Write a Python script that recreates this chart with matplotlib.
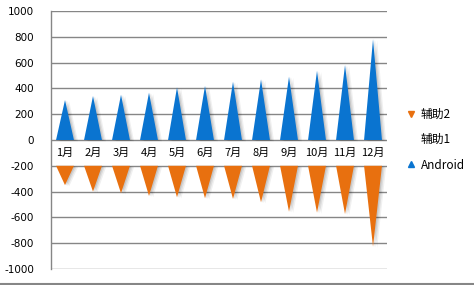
import numpy as np
import matplotlib.pyplot as plt
from matplotlib.patches import Polygon
from matplotlib.lines import Line2D
import matplotlib.transforms as mtransforms

plt.rcParams['font.family'] = ['DejaVu Sans', 'Noto Sans CJK SC']

# === Données ===
mois = ['1月', '2月', '3月', '4月', '5月', '6月', '7月', '8月', '9月', '10月', '11月', '12月']
android = [310, 341, 351, 367, 408, 419, 452, 470, 491, 537, 581, 781]
aide1 = [-200] * 12                      # série transparente (décalage)
aide2 = [-150, -200, -213, -234, -244, -252, -257, -283, -356, -363, -374, -627]
yticks = list(range(-1000, 1001, 200))

bleu = '#0a74d0'
orange = '#e8700f'
gris = '#868686'

fig = plt.figure(figsize=(4.74, 2.85), dpi=100)
ax = fig.add_axes([0.1076, 0.0561, 0.7089, 0.9053])

x = np.arange(len(mois))
demi = 0.32


def triangle(cx, base, sommet, couleur):
    pts = [(cx - demi, base), (cx + demi, base), (cx, sommet)]
    # ombre floue à droite
    for k, a in zip([3.0, 2.0, 1.0], [0.06, 0.08, 0.10]):
        tr = mtransforms.offset_copy(ax.transData, fig=fig, x=k, y=-k * 0.3, units='points')
        ax.add_patch(Polygon(pts, closed=True, facecolor='black', alpha=a,
                             edgecolor='none', transform=tr, zorder=2))
    ax.add_patch(Polygon(pts, closed=True, facecolor=couleur, edgecolor='none', zorder=3))


for i in x:
    triangle(i, 0, android[i], bleu)
    triangle(i, aide1[i], aide1[i] + aide2[i], orange)
    ax.text(i, -100, mois[i], ha='center', va='center', fontsize=8,
            family=['Noto Sans CJK SC', 'DejaVu Sans'], color='black', zorder=4)

ax.set_xlim(-0.5, len(mois) - 0.5)
ax.set_ylim(-1000, 1000)
ax.set_yticks(yticks)
ax.set_yticklabels([str(v) for v in yticks], fontsize=7.5)
ax.set_xticks([])
ax.tick_params(axis='y', length=0, pad=12)
for v in yticks:
    ax.axhline(v, color=gris, lw=1.0, zorder=1)
for s in ['top', 'right', 'bottom']:
    ax.spines[s].set_visible(False)
ax.spines['left'].set_color(gris)
ax.spines['left'].set_linewidth(1.0)

# Légende
poignees = [
    Line2D([], [], marker='v', color=orange, linestyle='none', markersize=5),
    Line2D([], [], marker='none', linestyle='none'),
    Line2D([], [], marker='^', color=bleu, linestyle='none', markersize=5),
]
fig.legend(poignees, ['辅助2', '辅助1', 'Android'], loc='center left',
           bbox_to_anchor=(0.835, 0.51), frameon=False,
           handlelength=0.8, handletextpad=0.4, labelspacing=1.05,
           prop={'family': ['Noto Sans CJK SC', 'DejaVu Sans'], 'size': 8.5})

# bordure basse
fig.add_artist(Line2D([0, 1], [0.004, 0.004], color=gris, lw=1.5, transform=fig.transFigure))

fig.savefig('out.png', dpi=100)
